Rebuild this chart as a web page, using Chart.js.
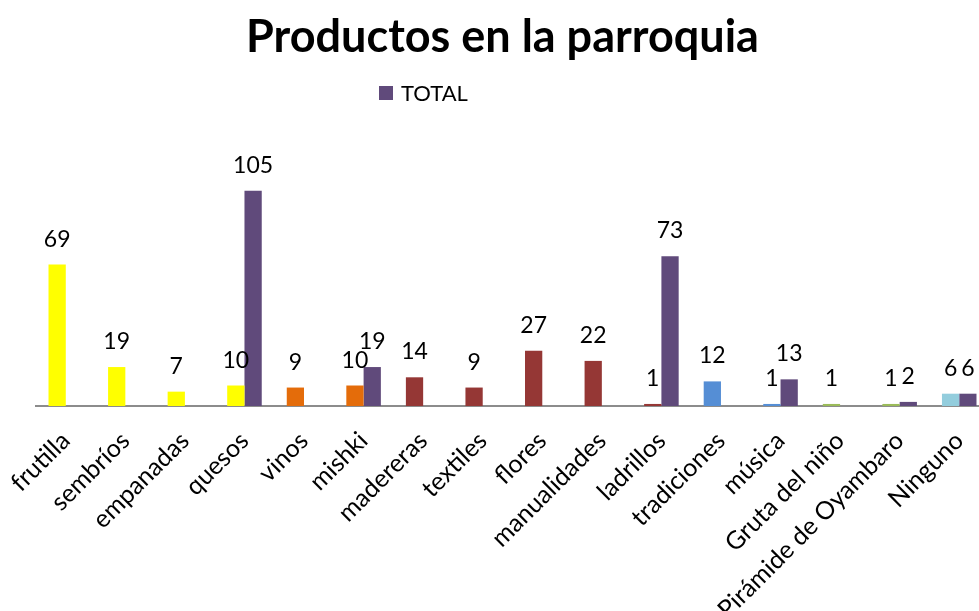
<!DOCTYPE html>
<html>
<head>
<meta charset="utf-8">
<script src="https://cdn.jsdelivr.net/npm/chart.js@4"></script>
<style>
  html, body { margin: 0; padding: 0; background: #fff; overflow: hidden; }
  #wrap { width: 979px; height: 611px; overflow: hidden; }
</style>
</head>
<body>
<div id="wrap">
  <canvas id="myChart" width="1005" height="611"></canvas>
</div>
<script>
// data
const categories = ['frutilla', 'sembríos', 'empanadas', 'quesos', 'vinos', 'mishki', 'madereras',
  'textiles', 'flores', 'manualidades', 'ladrillos', 'tradiciones', 'música', 'Gruta del niño',
  'Pirámide de Oyambaro', 'Ninguno'];
const seriesA = [69, 19, 7, 10, 9, 10, 14, 9, 27, 22, 1, 12, 1, 1, 1, 6];
const totalValues = [null, null, null, 105, null, 19, null, null, null, null, 73, null, 13, null, 2, 6];
const yMax = 120;

// colours
const seriesAColors = ['#FFFF00', '#FFFF00', '#FFFF00', '#FFFF00', '#E46C0A', '#E46C0A', '#953735',
  '#953735', '#953735', '#953735', '#953735', '#558ED5', '#558ED5', '#9BBB59', '#9BBB59', '#93CDDD'];
const totalColor = '#604A7B';

document.addEventListener('DOMContentLoaded', () => {
  const ctx = document.getElementById('myChart').getContext('2d');

  // numbers above each bar
  const valueLabels = {
    id: 'valueLabels',
    afterDatasetsDraw(chart) {
      const c = chart.ctx;
      c.save();
      c.font = '23px Lato';
      c.fillStyle = '#000';
      c.textAlign = 'center';
      c.textBaseline = 'alphabetic';
      chart.data.datasets.forEach((ds, i) => {
        const meta = chart.getDatasetMeta(i);
        meta.data.forEach((bar, j) => {
          const v = ds.data[j];
          if (v === null || v === undefined) return;
          c.fillText(String(v), bar.x, bar.y - 18);
        });
      });
      c.restore();
    }
  };

  // legend only shows the TOTAL entry, placed left of centre like the original
  const totalLegend = {
    id: 'totalLegend',
    afterDraw(chart, args, opts) {
      const c = chart.ctx;
      const ds = chart.data.datasets[1];
      c.save();
      c.fillStyle = ds.backgroundColor;
      c.fillRect(opts.x, opts.y, 14, 14);
      c.font = '22px Lato';
      c.fillStyle = '#000';
      c.textBaseline = 'alphabetic';
      c.fillText(ds.label, opts.x + 22, opts.y + 15);
      c.restore();
    }
  };

  new Chart(ctx, {
    type: 'bar',
    data: {
      labels: categories,
      datasets: [
        {
          label: '',
          data: seriesA,
          backgroundColor: seriesAColors,
          categoryPercentage: 0.58,
          barPercentage: 1.0,
        },
        {
          label: 'TOTAL',
          data: totalValues,
          backgroundColor: totalColor,
          categoryPercentage: 0.58,
          barPercentage: 1.0,
        }
      ]
    },
    options: {
      responsive: false,
      animation: false,
      events: [],
      layout: { padding: 0 },
      scales: {
        x: {
          grid: { display: false },
          border: { display: true, color: '#8C8C8C', width: 2 },
          ticks: {
            color: '#000',
            font: { family: 'Lato', size: 25 },
            maxRotation: 45,
            minRotation: 45,
            autoSkip: false,
            padding: 12,
          },
          afterFit(scale) {
            scale.height = 205;
            scale.paddingLeft = 36;
            scale.paddingRight = 16;
          }
        },
        y: {
          display: false,
          min: 0,
          max: yMax,
        }
      },
      plugins: {
        legend: { display: false },
        tooltip: { enabled: false },
        title: {
          display: true,
          text: 'Productos en la parroquia',
          color: '#000',
          font: { family: 'Lato', size: 45, weight: 'bold' },
          padding: { top: 10, bottom: 96 },
        },
        totalLegend: { x: 379, y: 86 },
      }
    },
    plugins: [valueLabels, totalLegend]
  });
});
</script>
</body>
</html>
